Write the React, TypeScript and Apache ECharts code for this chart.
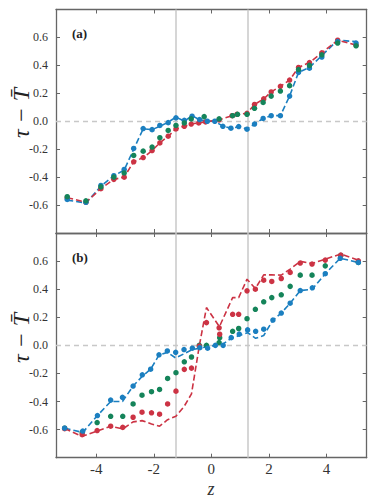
import React, { useEffect, useRef } from "react";
import * as echarts from "echarts";

// ---------- data: panel (a) ----------
const A_BLUE_Z = [-5.01, -4.36, -3.84, -3.39, -3.03, -2.7, -2.37, -2.06, -1.79, -1.5, -1.23, -0.94, -0.67, -0.41, -0.14, 0.12, 0.4, 0.68, 0.95, 1.24, 1.5, 1.8, 2.08, 2.4, 2.72, 3.03, 3.41, 3.84, 4.39, 5.03];
const A_BLUE_DOTS = [-0.56, -0.58, -0.46, -0.39, -0.345, -0.195, -0.052, -0.06, -0.03, -0.01, 0.025, 0.007, 0.036, 0.012, 0.0, 0.0, -0.036, -0.05, -0.038, -0.057, -0.02, 0.02, 0.04, 0.04, 0.18, 0.35, 0.38, 0.46, 0.57, 0.56];
const A_BLUE_LINE = [-0.565, -0.585, -0.465, -0.39, -0.35, -0.2, -0.055, -0.06, -0.036, -0.007, 0.03, 0.0, 0.04, 0.01, 0.0, 0.0, -0.035, -0.05, -0.04, -0.055, -0.02, 0.02, 0.04, 0.04, 0.18, 0.35, 0.385, 0.47, 0.58, 0.57];
const A_RED_Z = [-5.01, -4.36, -3.84, -3.39, -3.03, -2.7, -2.37, -2.06, -1.79, -1.5, -1.23, -0.94, -0.7, -0.44, -0.2, 0.27, 0.72, 0.89, 1.24, 1.5, 1.82, 2.08, 2.4, 2.72, 3.03, 3.41, 3.84, 4.39, 5.03];
const A_RED = [-0.547, -0.58, -0.483, -0.416, -0.4, -0.29, -0.26, -0.21, -0.155, -0.107, -0.055, -0.036, -0.02, -0.012, -0.005, 0.01, 0.04, 0.05, 0.057, 0.12, 0.16, 0.21, 0.25, 0.295, 0.385, 0.42, 0.49, 0.58, 0.545];
const A_GREEN_Z = [-5.01, -4.36, -3.84, -3.39, -3.03, -2.7, -2.37, -2.06, -1.79, -1.5, -1.23, -0.94, -0.7, -0.25, 0.27, 0.74, 0.91, 1.24, 1.5, 1.8, 2.08, 2.4, 2.72, 3.03, 3.41, 3.84, 4.39, 5.03];
const A_GREEN = [-0.54, -0.57, -0.47, -0.4, -0.37, -0.245, -0.214, -0.185, -0.118, -0.066, -0.03, -0.012, 0.017, 0.033, 0.017, 0.04, 0.05, 0.05, 0.093, 0.135, 0.18, 0.216, 0.255, 0.37, 0.4, 0.476, 0.56, 0.54];

// ---------- data: panel (b) ----------
const B_BLUE_Z = [-5.1, -4.47, -3.96, -3.5, -3.09, -2.72, -2.4, -2.11, -1.82, -1.53, -1.24, -0.95, -0.66, -0.4, -0.13, 0.14, 0.41, 0.69, 0.97, 1.26, 1.54, 1.82, 2.14, 2.43, 2.74, 3.09, 3.51, 3.96, 4.48, 5.11];
const B_BLUE_DOTS = [-0.59, -0.61, -0.5, -0.39, -0.37, -0.29, -0.21, -0.17, -0.067, -0.04, -0.05, -0.03, -0.02, -0.017, -0.02, 0.0, 0.0, 0.055, 0.08, 0.11, 0.1, 0.115, 0.18, 0.23, 0.3, 0.39, 0.41, 0.51, 0.62, 0.59];
const B_BLUE_LINE = [-0.59, -0.62, -0.5, -0.4, -0.4, -0.29, -0.22, -0.17, -0.07, -0.05, -0.09, -0.06, -0.03, -0.02, -0.01, 0.0, 0.01, 0.05, 0.07, 0.09, 0.05, 0.07, 0.18, 0.23, 0.3, 0.39, 0.4, 0.51, 0.62, 0.59];
const B_LINE_Z = [-5.1, -4.49, -3.97, -3.5, -3.08, -2.72, -2.41, -2.08, -1.8, -1.52, -1.23, -0.94, -0.69, -0.42, -0.17, 0.28, 0.74, 0.95, 1.24, 1.53, 1.82, 2.1, 2.43, 2.74, 3.09, 3.5, 3.96, 4.5, 5.11];
const B_RED_LINE = [-0.593, -0.648, -0.61, -0.576, -0.595, -0.545, -0.536, -0.56, -0.576, -0.529, -0.505, -0.433, -0.345, -0.005, 0.269, 0.133, 0.34, 0.34, 0.471, 0.405, 0.502, 0.502, 0.5, 0.543, 0.598, 0.583, 0.614, 0.65, 0.607];
const B_DOT_Z = [-5.1, -4.49, -3.97, -3.5, -3.08, -2.72, -2.41, -2.08, -1.8, -1.52, -1.23, -0.94, -0.69, -0.42, -0.17, 0.27, 0.29, 0.74, 0.95, 1.24, 1.53, 1.82, 2.1, 2.43, 2.74, 3.09, 3.5, 3.96, 4.5, 5.11];
const B_RED_DOTS = [-0.593, -0.636, -0.607, -0.576, -0.584, -0.512, -0.476, -0.48, -0.49, -0.417, -0.326, -0.171, -0.162, -0.005, 0.162, 0.125, 0.079, 0.221, 0.221, 0.388, 0.4, 0.464, 0.455, 0.476, 0.519, 0.586, 0.579, 0.607, 0.643, 0.602];
const B_GREEN_DOTS = [-0.59, -0.62, -0.55, -0.505, -0.505, -0.417, -0.355, -0.33, -0.314, -0.236, -0.195, -0.117, -0.083, 0.0, 0.0, 0.02, 0.055, 0.1, 0.12, 0.19, 0.257, 0.31, 0.34, 0.36, 0.42, 0.5, 0.5, 0.566, 0.64, 0.59];

// ---------- axes ----------
const X_TICKS = [-4, -2, 0, 2, 4];
const REF_Z = [-1.25, 1.25];
const PANEL_LABELS = ["(a)", "(b)"];

const BLUE = "#1b7fc0";
const RED = "#cc3344";
const GREEN = "#15845a";
const FRAME = "#666666";
const SERIF = "Liberation Serif";

const zip = (xs: number[], ys: number[]) => xs.map((x, i) => [x, ys[i]]);

export default function App() {
  const ref = useRef<HTMLDivElement>(null);
  useEffect(() => {
    document.body.style.margin = "0";
    const chart = echarts.init(ref.current!, undefined, { renderer: "svg" });

    const grids = [
      { left: 56, right: 7.3, top: 9.5, height: 223.5 },
      { left: 56, right: 7.3, top: 233, height: 224.7 },
    ];

    const axisLine = { show: true, onZero: false, lineStyle: { color: FRAME, width: 1.3 } };
    const xAxes: any[] = [];
    const yAxes: any[] = [];
    [0, 1].forEach((g) => {
      ["bottom", "top"].forEach((pos) => {
        const showLabels = g === 1 && pos === "bottom";
        xAxes.push({
          type: "value",
          gridIndex: g,
          position: pos,
          min: -5.4,
          max: 5.4,
          axisLine,
          splitLine: { show: false },
          axisTick: { show: true, inside: true, length: 4, customValues: X_TICKS, lineStyle: { color: FRAME, width: 1 } },
          axisLabel: showLabels
            ? { show: true, customValues: X_TICKS, fontFamily: SERIF, fontSize: 15, color: "#333", margin: 4 }
            : { show: false },
        });
      });
      ["left", "right"].forEach((pos) => {
        const showLabels = pos === "left";
        yAxes.push({
          type: "value",
          gridIndex: g,
          position: pos,
          min: -0.8,
          max: 0.8,
          interval: 0.2,
          axisLine,
          splitLine: { show: false },
          axisTick: { show: true, inside: true, length: 4, lineStyle: { color: FRAME, width: 1 } },
          axisLabel: showLabels
            ? {
                show: true,
                showMinLabel: false,
                showMaxLabel: false,
                fontFamily: SERIF,
                fontSize: 12,
                color: "#333",
                margin: 8,
                formatter: (v: number) => (Math.abs(v) < 1e-9 ? "0.0" : v.toFixed(1)),
              }
            : { show: false },
        });
      });
    });

    const dashed = [6, 3];
    const lineSeries = (g: number, data: number[][], color: string) => ({
      type: "line",
      xAxisIndex: g * 2,
      yAxisIndex: g * 2,
      data,
      showSymbol: false,
      symbol: "none",
      lineStyle: { color, width: 1.6, type: dashed },
      z: 3,
    });
    const dotSeries = (g: number, data: number[][], color: string, z: number) => ({
      type: "scatter",
      xAxisIndex: g * 2,
      yAxisIndex: g * 2,
      data,
      symbol: "circle",
      symbolSize: 5.5,
      itemStyle: { color, opacity: 1 },
      z,
    });
    const refSeries = (g: number) => ({
      type: "line",
      xAxisIndex: g * 2,
      yAxisIndex: g * 2,
      data: [],
      z: 1,
      markLine: {
        silent: true,
        symbol: "none",
        label: { show: false },
        z: 1,
        data: [
          ...REF_Z.map((v) => ({ xAxis: v, lineStyle: { color: "#c8c8c8", width: 1.5, type: "solid" } })),
          { yAxis: 0, lineStyle: { color: "#c8c8c8", width: 1.3, type: [5, 4] } },
        ],
      },
    });

    const series: any[] = [
      refSeries(0),
      lineSeries(0, zip(A_BLUE_Z, A_BLUE_LINE), BLUE),
      lineSeries(0, zip(A_RED_Z, A_RED), RED),
      dotSeries(0, zip(A_RED_Z, A_RED), RED, 4),
      dotSeries(0, zip(A_BLUE_Z, A_BLUE_DOTS), BLUE, 5),
      dotSeries(0, zip(A_GREEN_Z, A_GREEN), GREEN, 6),
      refSeries(1),
      lineSeries(1, zip(B_BLUE_Z, B_BLUE_LINE), BLUE),
      lineSeries(1, zip(B_LINE_Z, B_RED_LINE), RED),
      dotSeries(1, zip(B_DOT_Z, B_GREEN_DOTS), GREEN, 4),
      dotSeries(1, zip(B_DOT_Z, B_RED_DOTS), RED, 5),
      dotSeries(1, zip(B_BLUE_Z, B_BLUE_DOTS), BLUE, 6),
    ];

    const yName = "\u03C4 \u2212 T\u0304";
    const nameStyle = { text: yName, fontFamily: SERIF, fontStyle: "italic", fontSize: 24, fill: "#222", align: "center", verticalAlign: "middle" };
    const graphic: any[] = [
      { type: "text", x: 21, y: 113, rotation: Math.PI / 2, style: nameStyle },
      { type: "text", x: 21, y: 338, rotation: Math.PI / 2, style: nameStyle },
      {
        type: "text",
        x: 211,
        y: 489,
        style: { text: "z", fontFamily: SERIF, fontStyle: "italic", fontSize: 18, fill: "#333", align: "center", verticalAlign: "middle" },
      },
      {
        type: "text",
        x: 72,
        y: 33,
        style: { text: PANEL_LABELS[0], fontFamily: SERIF, fontWeight: "bold", fontSize: 13, fill: "#222", align: "left", verticalAlign: "middle" },
      },
      {
        type: "text",
        x: 72,
        y: 257,
        style: { text: PANEL_LABELS[1], fontFamily: SERIF, fontWeight: "bold", fontSize: 13, fill: "#222", align: "left", verticalAlign: "middle" },
      },
    ];

    chart.setOption({
      animation: false,
      backgroundColor: "#ffffff",
      grid: grids,
      xAxis: xAxes,
      yAxis: yAxes,
      series,
      graphic,
    });
    return () => chart.dispose();
  }, []);
  return <div ref={ref} style={{ width: 374, height: 498 }} />;
}
